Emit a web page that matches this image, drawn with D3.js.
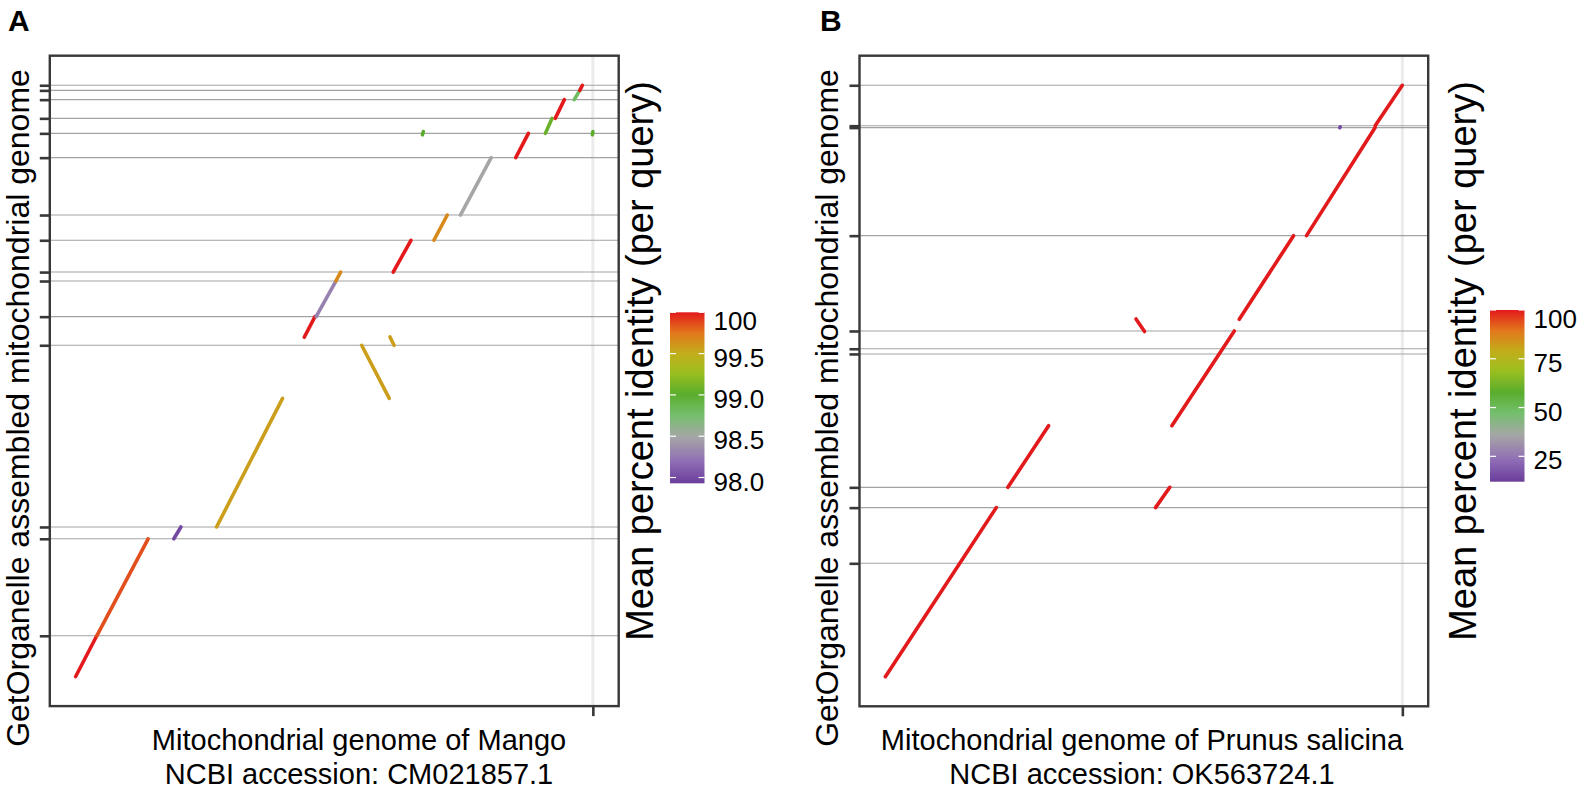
<!DOCTYPE html>
<html lang="en">
<head>
<meta charset="UTF-8">
<title>Dot plots: GetOrganelle mitochondrial assemblies vs reference</title>
<script src="https://d3js.org/d3.v7.min.js"></script>
<style>
    body { margin: 0; background: #fff; }
    svg { display: block; font-family: "Liberation Sans", Arial, Helvetica, sans-serif; }
    .hline { stroke: #a3a3a3; stroke-width: 1.1; }
    .vline { stroke: #ebebeb; stroke-width: 3; }
    .frame { fill: none; stroke: #383838; stroke-width: 2.4; }
    .axis path { display: none; }
    .axis line { stroke: #383838; stroke-width: 2.6; }
    .seg { stroke-width: 3.6; stroke-linecap: round; fill: none; }
    .title { font-size: 29px; fill: #000; }
    .ytitle { font-size: 32px; fill: #000; }
    .ltitle { font-size: 38px; fill: #000; }
    .llabel { font-size: 26px; fill: #000; }
    .tag { font-size: 30px; font-weight: bold; fill: #000; }
</style>
</head>
<body>
<svg id="chart" width="1577" height="796"></svg>
<script>
// ---- Panel A: Mango (positions in kb) ----
const mangoRefLength = 624.4;      // reference, x axis
const mangoQueryLength = 370.0;    // assembled, y axis
const mangoContigEnds = [25.5, 86.2, 93.6, 207.3, 225.2, 247.5, 253.1, 273.0,
                         288.8, 324.7, 339.9, 349.3, 361.0, 366.8, 370.0];
const mangoAlignments = [
    { rs: 0.0,   re: 25.5,  qs: 0.0,   qe: 25.5,  pid: 100 },
    { rs: 25.5,  re: 87.5,  qs: 25.5,  qe: 86.2,  pid: 99.86 },
    { rs: 118.5, re: 127.1, qs: 86.2,  qe: 93.6,  pid: 97.99 },
    { rs: 170.1, re: 249.8, qs: 93.6,  qe: 174.1, pid: 99.57 },
    { rs: 345.3, re: 378.6, qs: 207.3, qe: 174.1, pid: 99.57 },
    { rs: 379.5, re: 384.4, qs: 212.5, qe: 207.3, pid: 99.57 },
    { rs: 276.0, re: 288.9, qs: 212.3, qe: 225.2, pid: 100 },
    { rs: 290.3, re: 314.2, qs: 225.2, qe: 247.5, pid: 98.30 },
    { rs: 314.2, re: 319.9, qs: 247.5, qe: 253.1, pid: 99.67 },
    { rs: 383.4, re: 404.8, qs: 253.1, qe: 273.0, pid: 100 },
    { rs: 432.5, re: 448.7, qs: 273.0, qe: 288.8, pid: 99.67 },
    { rs: 464.5, re: 501.7, qs: 288.8, qe: 324.7, pid: 98.49 },
    { rs: 531.3, re: 546.6, qs: 324.7, qe: 339.9, pid: 100 },
    { rs: 567.1, re: 575.2, qs: 339.9, qe: 349.3, pid: 99.07 },
    { rs: 579.0, re: 590.0, qs: 349.3, qe: 361.0, pid: 100 },
    { rs: 601.9, re: 608.6, qs: 361.0, qe: 366.8, pid: 98.80 },
    { rs: 608.6, re: 611.8, qs: 366.8, qe: 370.0, pid: 100 },
    { rs: 418.7, re: 419.7, qs: 339.0, qe: 341.0, pid: 99.0 },
    { rs: 623.9, re: 624.4, qs: 339.0, qe: 341.0, pid: 99.0 }
];
const mangoIdentityRange = [97.93, 100];
const mangoLegendTicks = [98.0, 98.5, 99.0, 99.5, 100];

// ---- Panel B: Prunus salicina (positions in kb) ----
const prunusRefLength = 500.0;
const prunusQueryLength = 376.0;
const prunusContigEnds = [72.1, 107.5, 120.4, 205.2, 208.5, 219.8, 280.4, 349.1, 350.3, 376.0];
const prunusAlignments = [
    { rs: 0.0,   re: 107.3, qs: 0.0,   qe: 107.5, pid: 99.9 },
    { rs: 118.5, re: 157.9, qs: 120.4, qe: 159.6, pid: 99.9 },
    { rs: 261.3, re: 275.1, qs: 107.5, qe: 120.4, pid: 99.9 },
    { rs: 277.1, re: 337.5, qs: 159.6, qe: 219.8, pid: 99.9 },
    { rs: 242.4, re: 250.7, qs: 227.4, qe: 219.4, pid: 99.9 },
    { rs: 342.3, re: 394.8, qs: 227.2, qe: 280.4, pid: 99.9 },
    { rs: 407.3, re: 473.7, qs: 280.4, qe: 349.1, pid: 99.9 },
    { rs: 473.7, re: 500.0, qs: 350.3, qe: 376.0, pid: 99.9 },
    { rs: 439.5, re: 439.9, qs: 349.0, qe: 349.5, pid: 15 }
];
const prunusIdentityRange = [12, 100];
const prunusLegendTicks = [25, 50, 75, 100];

// shared palette, stops given as fraction of the identity range
const paletteStops = [0, 0.12, 0.27, 0.40, 0.52, 0.65, 0.76, 0.88, 1];
const paletteColors = ["#6a3d9a", "#8e6bb5", "#a6a6a6", "#74bf6c", "#5aad2d",
                       "#9dbf1f", "#c2ad1a", "#e2771c", "#e3191c"];

const yTitle = "GetOrganelle assembled mitochondrial genome";
const legendTitle = "Mean percent identity (per query)";

const svg = d3.select("#chart");
const defs = svg.append("defs");

// 100 is printed without decimals on both bars
const fmtMango = d => d === 100 ? "100" : d.toFixed(1);
const fmtPrunus = d3.format("d");

const panels = [
    {
        id: "A", tagX: 8, refLength: mangoRefLength, queryLength: mangoQueryLength,
        contigEnds: mangoContigEnds, alignments: mangoAlignments,
        range: mangoIdentityRange, legendTicks: mangoLegendTicks, fmt: fmtMango,
        left: 49.8, right: 618.7, top: 55.7, bottom: 706.1,
        yTitleX: 29, titleX: 359,
        xTitle: ["Mitochondrial genome of Mango", "NCBI accession: CM021857.1"],
        legendTitleX: 653, bar: { x: 670, w: 34.5, top: 312.3, bottom: 483.3 }
    },
    {
        id: "B", tagX: 820, refLength: prunusRefLength, queryLength: prunusQueryLength,
        contigEnds: prunusContigEnds, alignments: prunusAlignments,
        range: prunusIdentityRange, legendTicks: prunusLegendTicks, fmt: fmtPrunus,
        left: 859.5, right: 1428.2, top: 55.7, bottom: 706.3,
        yTitleX: 838, titleX: 1142,
        xTitle: ["Mitochondrial genome of Prunus salicina", "NCBI accession: OK563724.1"],
        legendTitleX: 1476, bar: { x: 1490, w: 34.5, top: 310, bottom: 481.7 }
    }
];

panels.forEach(drawPanel);

function drawPanel(p) {
    const g = svg.append("g");
    const [lo, hi] = p.range;

    // 5% expansion like ggplot
    const x = d3.scaleLinear()
        .domain([-0.05 * p.refLength, 1.05 * p.refLength])
        .range([p.left, p.right]);
    const y = d3.scaleLinear()
        .domain([-0.05 * p.queryLength, 1.05 * p.queryLength])
        .range([p.bottom, p.top]);
    const color = d3.scaleLinear()
        .domain(paletteStops.map(t => lo + t * (hi - lo)))
        .range(paletteColors)
        .clamp(true);

    // background grid: one vertical at the reference end, one line per contig end
    g.append("line").attr("class", "vline")
        .attr("x1", x(p.refLength)).attr("x2", x(p.refLength))
        .attr("y1", p.top).attr("y2", p.bottom);

    g.selectAll(".hline").data(p.contigEnds).join("line")
        .attr("class", "hline")
        .attr("x1", p.left).attr("x2", p.right)
        .attr("y1", d => y(d)).attr("y2", d => y(d));

    // alignments
    g.selectAll(".seg").data(p.alignments).join("line")
        .attr("class", "seg")
        .attr("x1", d => x(d.rs)).attr("y1", d => y(d.qs))
        .attr("x2", d => x(d.re)).attr("y2", d => y(d.qe))
        .attr("stroke", d => color(d.pid));

    g.append("rect").attr("class", "frame")
        .attr("x", p.left).attr("y", p.top)
        .attr("width", p.right - p.left).attr("height", p.bottom - p.top);

    // axes, ticks only
    g.append("g").attr("class", "axis")
        .attr("transform", `translate(${p.left},0)`)
        .call(d3.axisLeft(y).tickValues(p.contigEnds).tickSize(10).tickFormat(""));
    g.append("g").attr("class", "axis")
        .attr("transform", `translate(0,${p.bottom})`)
        .call(d3.axisBottom(x).tickValues([p.refLength]).tickSize(10).tickFormat(""));

    // titles
    g.append("text").attr("class", "tag")
        .attr("x", p.tagX).attr("y", 31).text(p.id);

    g.append("text").attr("class", "ytitle")
        .attr("text-anchor", "middle")
        .attr("transform", `translate(${p.yTitleX},408) rotate(-90)`)
        .text(yTitle);

    g.selectAll(".title").data(p.xTitle).join("text")
        .attr("class", "title")
        .attr("text-anchor", "middle")
        .attr("x", p.titleX)
        .attr("y", (d, i) => 750 + i * 34)
        .text(d => d);

    // colour bar legend
    const b = p.bar;
    const gradId = "grad" + p.id;
    const grad = defs.append("linearGradient").attr("id", gradId)
        .attr("x1", 0).attr("y1", 1).attr("x2", 0).attr("y2", 0);
    grad.selectAll("stop").data(d3.range(0, 1.0001, 0.02)).join("stop")
        .attr("offset", t => t)
        .attr("stop-color", t => color(lo + t * (hi - lo)));

    const ly = d3.scaleLinear().domain(p.range).range([b.bottom, b.top]);

    g.append("rect")
        .attr("x", b.x).attr("y", b.top)
        .attr("width", b.w).attr("height", b.bottom - b.top)
        .attr("fill", `url(#${gradId})`);

    const ticks = g.append("g");
    ticks.selectAll(".tl").data(p.legendTicks).join("line")
        .attr("x1", b.x).attr("x2", b.x + 6)
        .attr("y1", d => ly(d)).attr("y2", d => ly(d))
        .attr("stroke", "#fff").attr("stroke-width", 1.2);
    ticks.selectAll(".tr").data(p.legendTicks).join("line")
        .attr("x1", b.x + b.w - 6).attr("x2", b.x + b.w)
        .attr("y1", d => ly(d)).attr("y2", d => ly(d))
        .attr("stroke", "#fff").attr("stroke-width", 1.2);

    g.selectAll(".llabel").data(p.legendTicks).join("text")
        .attr("class", "llabel")
        .attr("x", b.x + b.w + 9)
        .attr("y", d => Math.max(ly(d) + 4, b.top + 9))
        .attr("dy", "0.35em")
        .text(d => p.fmt(d));

    g.append("text").attr("class", "ltitle")
        .attr("text-anchor", "middle")
        .attr("transform", `translate(${p.legendTitleX},361) rotate(-90)`)
        .text(legendTitle);
}
</script>
</body>
</html>
